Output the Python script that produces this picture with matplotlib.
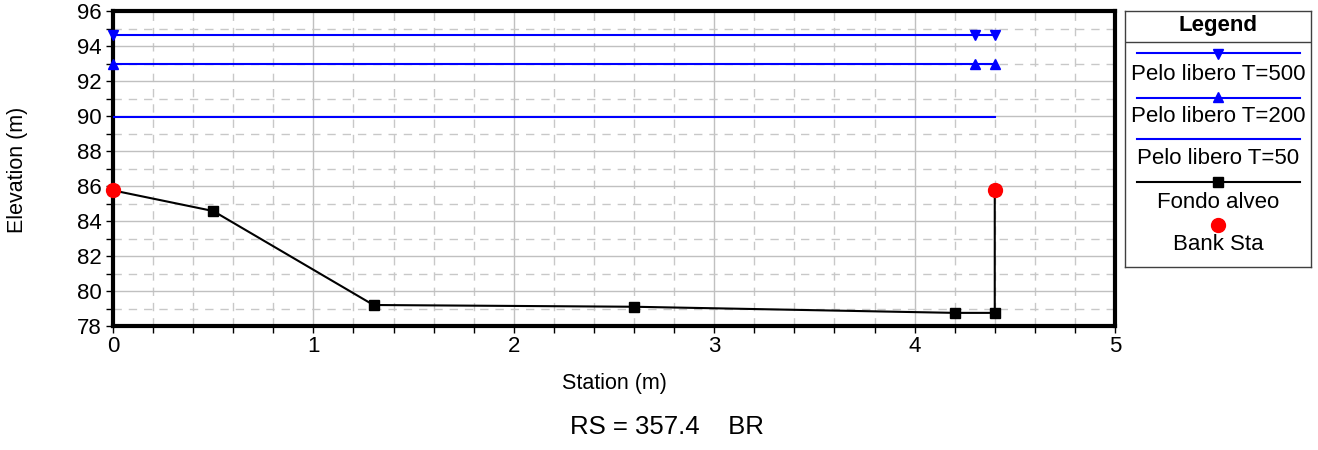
import matplotlib.pyplot as plt
from matplotlib.ticker import MultipleLocator

plt.rcParams['font.family'] = ['Liberation Sans', 'DejaVu Sans']

# Fondo alveo (station, elevation)
fondo_x = [0.0, 0.5, 1.3, 2.6, 4.2, 4.4, 4.4]
fondo_y = [85.75, 84.57, 79.2, 79.1, 78.75, 78.75, 85.75]

# water surfaces
ws_x = [0.0, 4.3, 4.4]
ws500 = [94.63, 94.63, 94.63]
ws200 = [92.97, 92.97, 92.97]
ws50_x = [0.0, 4.4]
ws50 = [89.95, 89.95]

# bank stations
bank_x = [0.0, 4.4]
bank_y = [85.75, 85.75]

legend_labels = ['Pelo libero T=500', 'Pelo libero T=200', 'Pelo libero T=50',
                 'Fondo alveo', 'Bank Sta']

fs = 16
fig = plt.figure(figsize=(13.18, 4.5), dpi=100)
ax = fig.add_axes([113/1318, 1-326/450, (1115-113)/1318, (326-11)/450])

ax.plot(ws_x, ws500, color='#0000ff', lw=1.5, marker='v', ms=7, zorder=3, clip_on=False)
ax.plot(ws_x, ws200, color='#0000ff', lw=1.5, marker='^', ms=7, zorder=3, clip_on=False)
ax.plot(ws50_x, ws50, color='#0000ff', lw=1.5, zorder=3)
ax.plot(fondo_x, fondo_y, color='black', lw=1.5, marker='s', ms=6.5, zorder=4, clip_on=False)
ax.plot(bank_x, bank_y, ls='none', marker='o', color='#ff0000', ms=10, zorder=5, clip_on=False)

ax.set_xlim(0, 5)
ax.set_ylim(78, 96)
ax.xaxis.set_major_locator(MultipleLocator(1))
ax.xaxis.set_minor_locator(MultipleLocator(0.2))
ax.yaxis.set_major_locator(MultipleLocator(2))
ax.yaxis.set_minor_locator(MultipleLocator(1))
ax.grid(True, which='major', color='#c0c0c0', lw=1, ls='-')
ax.grid(True, which='minor', color='#c8c8c8', lw=1, ls=(0, (6, 5)))
ax.set_axisbelow(True)
ax.tick_params(which='both', direction='out', length=5, width=1, labelsize=fs)
ax.tick_params(axis='x', pad=2)
ax.tick_params(axis='y', pad=3)
for s in ax.spines.values():
    s.set_linewidth(3)

fig.text(18/1318, 1-170/450, 'Elevation (m)', rotation=90, ha='center', va='center', fontsize=15.5)
fig.text(614/1318, 1-384/450, 'Station (m)', ha='center', va='center', fontsize=15.5)
fig.text(667/1318, 1-427/450, 'RS = 357.4    BR', ha='center', va='center', fontsize=18.5)

# legend box drawn by hand
lg = fig.add_axes([1125/1318, 1-267/450, (1311-1125)/1318, (267-11)/450])
lg.set_xlim(0, 186)
lg.set_ylim(256, 0)
lg.set_xticks([])
lg.set_yticks([])
for s in lg.spines.values():
    s.set_linewidth(1)
    s.set_color('#404040')
lg.text(93, 15, 'Legend', ha='center', va='center', fontsize=fs, fontweight='bold')
lg.plot([0, 186], [31, 31], color='#404040', lw=1)
lx = [12, 175]
mid = [93]
lg.plot(lx, [42, 42], color='#0000ff', lw=1.5)
lg.plot(mid, [43], marker='v', color='#0000ff', ms=7)
lg.text(93, 63, legend_labels[0], ha='center', va='center', fontsize=fs)
lg.plot(lx, [87, 87], color='#0000ff', lw=1.5)
lg.plot(mid, [86], marker='^', color='#0000ff', ms=7)
lg.text(93, 106, legend_labels[1], ha='center', va='center', fontsize=fs)
lg.plot(lx, [128, 128], color='#0000ff', lw=1.5)
lg.text(93, 148, legend_labels[2], ha='center', va='center', fontsize=fs)
lg.plot(lx, [171, 171], color='black', lw=1.5)
lg.plot(mid, [171], marker='s', color='black', ms=6.5)
lg.text(93, 192, legend_labels[3], ha='center', va='center', fontsize=fs)
lg.plot(mid, [214], marker='o', color='#ff0000', ms=10)
lg.text(93, 233, legend_labels[4], ha='center', va='center', fontsize=fs)

fig.savefig('out.png', dpi=100)
